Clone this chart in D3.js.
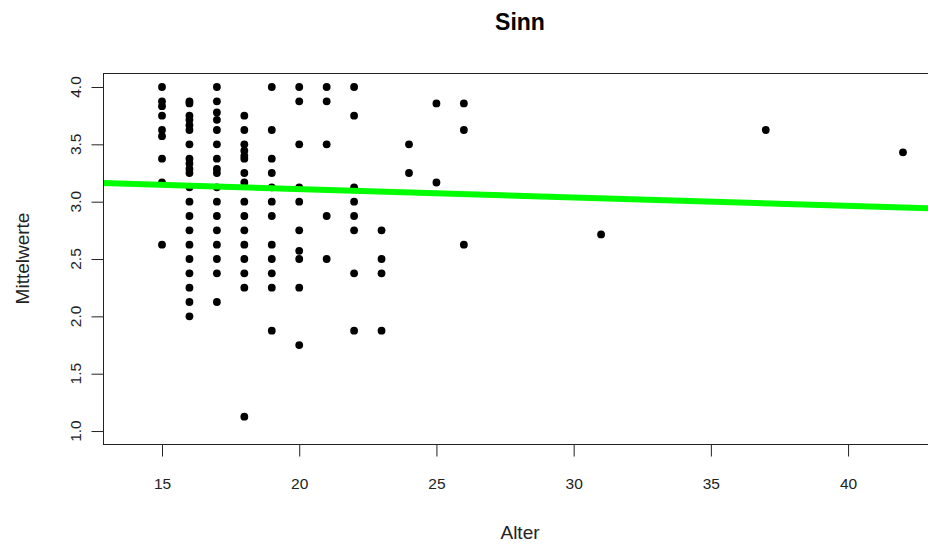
<!DOCTYPE html>
<html>
<head>
<meta charset="utf-8">
<script src="https://cdn.jsdelivr.net/npm/d3@7"></script>
<style>
  body { margin: 0; background: #fff; }
  svg { display: block; font-family: "Liberation Sans", Arial, sans-serif; }
</style>
</head>
<body>
<svg id="chart"></svg>
<script>
// Alter (x) und die Mittelwerte pro Alter (y)
const ages = [15, 16, 17, 18, 19, 20, 21, 22, 23, 24, 25, 26, 31, 37, 42];
const meanValues = [
  [4.0, 3.875, 3.833, 3.75, 3.625, 3.571, 3.375, 3.167, 2.625],
  [3.875, 3.857, 3.75, 3.714, 3.667, 3.625, 3.5, 3.375, 3.333, 3.286, 3.25, 3.125, 3.0, 2.875, 2.75, 2.625, 2.5, 2.375, 2.25, 2.125, 2.0],
  [4.0, 3.875, 3.778, 3.714, 3.625, 3.5, 3.375, 3.286, 3.25, 3.125, 3.0, 2.875, 2.75, 2.625, 2.5, 2.375, 2.125],
  [3.75, 3.625, 3.5, 3.444, 3.4, 3.375, 3.25, 3.167, 3.0, 2.875, 2.75, 2.625, 2.5, 2.375, 2.25, 1.125],
  [4.0, 3.625, 3.375, 3.25, 3.125, 3.0, 2.875, 2.625, 2.5, 2.375, 2.25, 1.875],
  [4.0, 3.875, 3.5, 3.125, 3.0, 2.75, 2.571, 2.5, 2.25, 1.75],
  [4.0, 3.875, 3.5, 2.875, 2.5],
  [4.0, 3.75, 3.125, 3.0, 2.875, 2.75, 2.375, 1.875],
  [2.75, 2.5, 2.375, 1.875],
  [3.5, 3.25],
  [3.857, 3.167],
  [3.857, 3.625, 2.625],
  [2.714],
  [3.625],
  [3.43]
];
const xTicks = [15, 20, 25, 30, 35, 40];
const yTicks = [1.0, 1.5, 2.0, 2.5, 3.0, 3.5, 4.0];
// Regressionsgerade
const fitIntercept = 3.256;
const fitSlope = -0.0073;

let points = [];
for (let i = 0; i < ages.length; i++) {
  for (let v of meanValues[i]) {
    points.push({ alter: ages[i], wert: v });
  }
}

let width = 928, height = 545;
let plotLeft = 103, plotRight = 937, plotTop = 73, plotBottom = 444;

let svg = d3.select("#chart")
    .attr("width", width)
    .attr("height", height);

let scaleX = d3.scaleLinear()
  .domain([12.85, 43.24])
  .range([plotLeft, plotRight]);

let scaleY = d3.scaleLinear()
  .domain([0.887, 4.122])
  .range([plotBottom, plotTop]);

svg.append("defs").append("clipPath")
  .attr("id", "plotclip")
  .append("rect")
  .attr("x", plotLeft).attr("y", plotTop)
  .attr("width", plotRight - plotLeft).attr("height", plotBottom - plotTop);

// Punkte
svg.append("g")
  .selectAll("circle")
  .data(points)
  .enter()
  .append("circle")
  .attr("cx", d => scaleX(d.alter))
  .attr("cy", d => scaleY(d.wert))
  .attr("r", 3.9)
  .style("fill", "#000");

// gruene Linie
let xd = scaleX.domain();
let lineData = [xd[0], xd[1]].map(x => ({ x: x, y: fitIntercept + fitSlope * x }));
svg.append("path")
  .datum(lineData)
  .attr("clip-path", "url(#plotclip)")
  .attr("d", d3.line().x(d => scaleX(d.x)).y(d => scaleY(d.y)))
  .style("fill", "none")
  .style("stroke", "#00ff00")
  .style("stroke-width", 6);

// Rahmen
svg.append("rect")
  .attr("x", plotLeft + 0.5).attr("y", plotTop + 0.5)
  .attr("width", plotRight - plotLeft).attr("height", plotBottom - plotTop)
  .style("fill", "none")
  .style("stroke", "#222")
  .style("stroke-width", 1);

// Achsen
let axisX = d3.axisBottom(scaleX).tickValues(xTicks).tickSize(12).tickPadding(21).tickFormat(d3.format("d"));
let gx = svg.append("g")
  .attr("transform", `translate(0, ${plotBottom + 0.5})`)
  .call(axisX);
gx.select(".domain").attr("d", `M${scaleX(15)},0H${scaleX(40)}`);

let axisY = d3.axisLeft(scaleY).tickValues(yTicks).tickSize(12).tickFormat(d3.format(".1f"));
let gy = svg.append("g")
  .attr("transform", `translate(${plotLeft + 0.5}, 0)`)
  .call(axisY);
gy.select(".domain").attr("d", `M0,${scaleY(1)}V${scaleY(4)}`);
gy.selectAll(".tick").attr("transform", null);
gy.selectAll(".tick line")
  .attr("y1", d => scaleY(d) + 0.5).attr("y2", d => scaleY(d) + 0.5);
gy.selectAll(".tick text")
  .attr("x", null).attr("dy", null).attr("y", 0)
  .attr("text-anchor", "middle")
  .attr("transform", d => `translate(-23, ${scaleY(d)}) rotate(-90)`);

svg.selectAll(".tick line, .domain").style("stroke", "#222");
svg.selectAll(".tick text")
  .style("font-family", "'Liberation Sans', Arial, sans-serif")
  .style("font-size", "15.5px")
  .style("fill", "#222");

// Titel
svg.append("text")
  .attr("x", (plotLeft + plotRight) / 2).attr("y", 30)
  .attr("text-anchor", "middle")
  .style("font-size", "23px")
  .style("font-weight", "bold")
  .text("Sinn");

svg.append("text")
  .attr("x", (plotLeft + plotRight) / 2).attr("y", 539)
  .attr("text-anchor", "middle")
  .style("font-size", "19px")
  .style("fill", "#222")
  .text("Alter");

svg.append("text")
  .attr("transform", `translate(29, ${(plotTop + plotBottom) / 2}) rotate(-90)`)
  .attr("text-anchor", "middle")
  .style("font-size", "19px")
  .style("fill", "#222")
  .text("Mittelwerte");
</script>
</body>
</html>
